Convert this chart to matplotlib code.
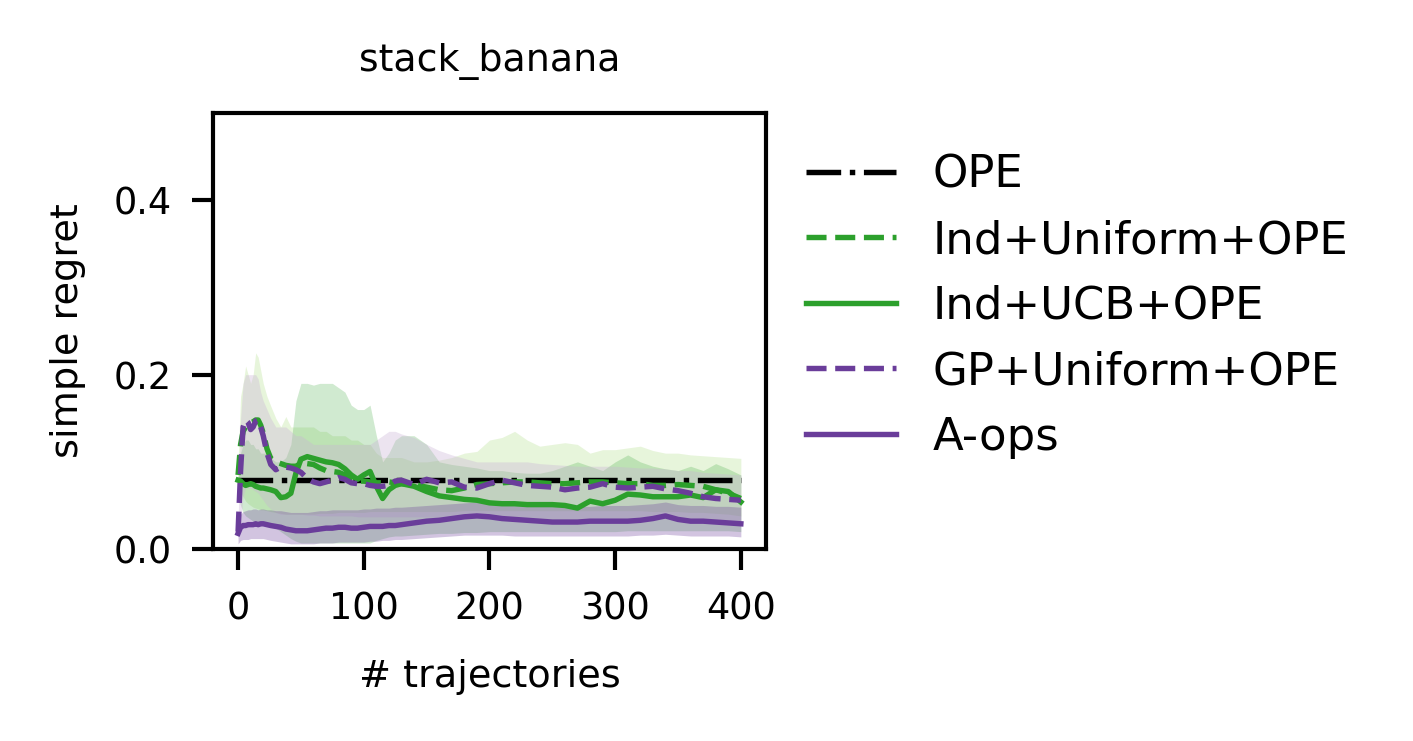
import numpy as np
import matplotlib

matplotlib.use("Agg")
import matplotlib.pyplot as plt

# number of trajectories at which the curves were sampled
steps = [0, 2, 4, 6, 8, 10, 12, 14, 16, 18, 20,
         23, 26, 30, 34, 38, 42, 46, 50,
         55, 60, 65, 70, 75, 80, 85, 90, 95, 100, 105, 110, 115, 120, 125, 130,
         140, 150, 160, 170, 180, 190, 200, 210, 220, 230, 240, 250, 260, 270,
         280, 290, 300, 310, 320, 330, 340, 350, 360, 370, 380, 390, 400]

ope_regret = 0.079

ind_uniform_mean = [0.085, 0.120, 0.135, 0.140, 0.144, 0.145, 0.146, 0.148, 0.148, 0.142, 0.133,
                    0.115, 0.104, 0.100, 0.098, 0.096, 0.095, 0.095, 0.098,
                    0.098, 0.097, 0.093, 0.090, 0.089, 0.088, 0.085, 0.080, 0.078, 0.078, 0.077, 0.076, 0.076, 0.077, 0.076, 0.075,
                    0.074, 0.071, 0.068, 0.067, 0.070, 0.074, 0.075, 0.076, 0.077, 0.077, 0.076, 0.075, 0.075, 0.076,
                    0.077, 0.077, 0.076, 0.075, 0.075, 0.073, 0.073, 0.074, 0.073, 0.072, 0.068, 0.064, 0.058]
ind_uniform_hi = [0.100, 0.175, 0.190, 0.210, 0.200, 0.190, 0.200, 0.225, 0.220, 0.205, 0.190,
                  0.175, 0.164, 0.150, 0.140, 0.152, 0.140, 0.140, 0.140,
                  0.140, 0.140, 0.135, 0.135, 0.130, 0.130, 0.130, 0.125, 0.125, 0.120, 0.120, 0.110, 0.105, 0.105, 0.105, 0.105,
                  0.100, 0.100, 0.102, 0.105, 0.110, 0.112, 0.125, 0.128, 0.135, 0.125, 0.118, 0.120, 0.122, 0.120,
                  0.110, 0.114, 0.114, 0.116, 0.118, 0.113, 0.110, 0.110, 0.108, 0.107, 0.106, 0.105, 0.104]
ind_uniform_lo = [0.070, 0.065, 0.060, 0.055, 0.052, 0.050, 0.048, 0.047, 0.046, 0.045, 0.045,
                  0.044, 0.043, 0.042, 0.041, 0.040, 0.040, 0.040, 0.040,
                  0.040, 0.040, 0.041, 0.041, 0.041, 0.042, 0.042, 0.042, 0.042, 0.042, 0.043, 0.043, 0.043, 0.043, 0.043, 0.043,
                  0.043, 0.043, 0.043, 0.043, 0.044, 0.044, 0.044, 0.044, 0.044, 0.044, 0.044, 0.044, 0.044, 0.044,
                  0.044, 0.044, 0.044, 0.044, 0.044, 0.043, 0.043, 0.043, 0.042, 0.042, 0.041, 0.040, 0.038]

ind_ucb_mean = [0.079, 0.078, 0.075, 0.073, 0.074, 0.075, 0.074, 0.072, 0.071, 0.070, 0.070,
                0.069, 0.068, 0.066, 0.059, 0.060, 0.064, 0.087, 0.103,
                0.106, 0.104, 0.102, 0.100, 0.099, 0.097, 0.092, 0.085, 0.080, 0.085, 0.089, 0.072, 0.058, 0.068, 0.073, 0.075,
                0.072, 0.066, 0.061, 0.059, 0.057, 0.056, 0.053, 0.052, 0.052, 0.051, 0.051, 0.051, 0.050, 0.047,
                0.055, 0.052, 0.056, 0.063, 0.062, 0.060, 0.060, 0.060, 0.062, 0.059, 0.068, 0.066, 0.054]
ind_ucb_hi = [0.100, 0.110, 0.120, 0.125, 0.125, 0.120, 0.120, 0.115, 0.115, 0.110, 0.110,
              0.110, 0.105, 0.100, 0.100, 0.105, 0.120, 0.170, 0.190,
              0.190, 0.188, 0.190, 0.190, 0.190, 0.185, 0.180, 0.165, 0.160, 0.160, 0.165, 0.130, 0.100, 0.110, 0.125, 0.130,
              0.130, 0.120, 0.100, 0.097, 0.095, 0.093, 0.090, 0.090, 0.088, 0.087, 0.087, 0.090, 0.095, 0.100,
              0.095, 0.090, 0.100, 0.108, 0.100, 0.095, 0.092, 0.090, 0.095, 0.090, 0.098, 0.092, 0.085]
ind_ucb_lo = [0.060, 0.050, 0.042, 0.038, 0.036, 0.034, 0.032, 0.030, 0.029, 0.028, 0.027,
              0.026, 0.025, 0.024, 0.020, 0.016, 0.012, 0.009, 0.007,
              0.007, 0.007, 0.007, 0.007, 0.007, 0.007, 0.007, 0.007, 0.007, 0.007, 0.007, 0.010, 0.012, 0.014, 0.015, 0.015,
              0.016, 0.017, 0.018, 0.018, 0.019, 0.019, 0.020, 0.020, 0.020, 0.020, 0.020, 0.020, 0.020, 0.020,
              0.020, 0.020, 0.020, 0.021, 0.021, 0.021, 0.021, 0.021, 0.021, 0.021, 0.021, 0.021, 0.020]

gp_uniform_mean = [0.020, 0.090, 0.140, 0.148, 0.145, 0.137, 0.140, 0.147, 0.148, 0.140, 0.130,
                   0.110, 0.097, 0.091, 0.094, 0.094, 0.093, 0.091, 0.088,
                   0.081, 0.077, 0.075, 0.077, 0.079, 0.082, 0.080, 0.076, 0.075, 0.075, 0.073, 0.072, 0.072, 0.073, 0.078, 0.079,
                   0.074, 0.080, 0.076, 0.077, 0.071, 0.070, 0.075, 0.079, 0.076, 0.073, 0.072, 0.071, 0.068, 0.070,
                   0.071, 0.075, 0.071, 0.070, 0.071, 0.072, 0.069, 0.067, 0.064, 0.060, 0.058, 0.057, 0.056]
gp_uniform_hi = [0.030, 0.150, 0.190, 0.200, 0.200, 0.200, 0.200, 0.200, 0.195, 0.180, 0.170,
                 0.160, 0.150, 0.140, 0.140, 0.140, 0.135, 0.130, 0.130,
                 0.125, 0.120, 0.120, 0.120, 0.120, 0.120, 0.120, 0.120, 0.120, 0.120, 0.120, 0.125, 0.130, 0.135, 0.135, 0.132,
                 0.128, 0.120, 0.113, 0.108, 0.104, 0.100, 0.100, 0.100, 0.100, 0.100, 0.098, 0.097, 0.096, 0.095,
                 0.095, 0.095, 0.095, 0.094, 0.093, 0.093, 0.092, 0.090, 0.090, 0.088, 0.087, 0.086, 0.085]
gp_uniform_lo = [0.012, 0.030, 0.060, 0.070, 0.070, 0.070, 0.068, 0.066, 0.064, 0.060, 0.056,
                 0.050, 0.046, 0.042, 0.040, 0.040, 0.040, 0.040, 0.040,
                 0.039, 0.039, 0.038, 0.038, 0.038, 0.038, 0.038, 0.038, 0.037, 0.037, 0.037, 0.037, 0.037, 0.037, 0.037, 0.037,
                 0.037, 0.037, 0.036, 0.036, 0.036, 0.036, 0.036, 0.036, 0.036, 0.036, 0.035, 0.035, 0.035, 0.035,
                 0.035, 0.035, 0.035, 0.035, 0.035, 0.035, 0.035, 0.034, 0.034, 0.033, 0.033, 0.033, 0.032]

aops_mean = [0.018, 0.025, 0.027, 0.027, 0.028, 0.028, 0.028, 0.029, 0.028, 0.029, 0.029,
             0.028, 0.027, 0.026, 0.025, 0.023, 0.022, 0.021, 0.021,
             0.021, 0.022, 0.023, 0.024, 0.024, 0.025, 0.025, 0.024, 0.024, 0.025, 0.026, 0.026, 0.026, 0.027, 0.027, 0.028,
             0.030, 0.032, 0.033, 0.035, 0.037, 0.038, 0.037, 0.035, 0.034, 0.033, 0.032, 0.031, 0.031, 0.031,
             0.032, 0.032, 0.032, 0.032, 0.033, 0.035, 0.038, 0.034, 0.032, 0.032, 0.031, 0.030, 0.029]
aops_hi = [0.032, 0.040, 0.043, 0.044, 0.045, 0.045, 0.046, 0.046, 0.045, 0.046, 0.046,
           0.045, 0.045, 0.044, 0.044, 0.043, 0.042, 0.042, 0.042,
           0.042, 0.043, 0.044, 0.044, 0.045, 0.045, 0.045, 0.045, 0.045, 0.046, 0.046, 0.047, 0.047, 0.047, 0.048, 0.048,
           0.049, 0.050, 0.051, 0.052, 0.053, 0.054, 0.053, 0.052, 0.051, 0.050, 0.049, 0.049, 0.049, 0.049,
           0.049, 0.050, 0.050, 0.050, 0.051, 0.052, 0.054, 0.051, 0.050, 0.050, 0.049, 0.049, 0.048]
aops_lo = [0.006, 0.010, 0.011, 0.011, 0.011, 0.012, 0.012, 0.012, 0.012, 0.012, 0.012,
           0.011, 0.010, 0.009, 0.008, 0.007, 0.006, 0.006, 0.006,
           0.006, 0.006, 0.007, 0.007, 0.007, 0.008, 0.008, 0.008, 0.008, 0.008, 0.009, 0.009, 0.010, 0.010, 0.011, 0.011,
           0.012, 0.013, 0.014, 0.015, 0.016, 0.016, 0.016, 0.016, 0.015, 0.015, 0.015, 0.015, 0.015, 0.015,
           0.015, 0.015, 0.015, 0.015, 0.016, 0.016, 0.017, 0.016, 0.015, 0.015, 0.015, 0.015, 0.014]

GREEN = "#2ca02c"
PURPLE = "#6a3d9a"

plt.rcParams["font.family"] = "DejaVu Sans"
plt.rcParams["font.size"] = 9

fig = plt.figure(figsize=(4.71, 2.47), dpi=300)
ax = fig.add_axes([0.1507, 0.259, 0.3914, 0.5885])

x = np.asarray(steps, dtype=float)

# shaded spread of each method
ax.fill_between(x, ind_uniform_lo, ind_uniform_hi, color="#b2df8a", alpha=0.3, linewidth=0)
ax.fill_between(x, ind_ucb_lo, ind_ucb_hi, color=GREEN, alpha=0.22, linewidth=0)
ax.fill_between(x, gp_uniform_lo, gp_uniform_hi, color="#cab2d6", alpha=0.35, linewidth=0)
ax.fill_between(x, aops_lo, aops_hi, color=PURPLE, alpha=0.3, linewidth=0)

lw = 1.3
ax.plot([x[0], x[-1]], [ope_regret, ope_regret], color="black", linestyle="-.", linewidth=lw, label="OPE")
ax.plot(x, ind_uniform_mean, color=GREEN, linestyle="--", linewidth=lw, label="Ind+Uniform+OPE")
ax.plot(x, ind_ucb_mean, color=GREEN, linestyle="-", linewidth=lw, label="Ind+UCB+OPE")
ax.plot(x, gp_uniform_mean, color=PURPLE, linestyle="--", linewidth=lw, label="GP+Uniform+OPE")
ax.plot(x, aops_mean, color=PURPLE, linestyle="-", linewidth=lw, label="A-ops")

ax.set_ylim(0, 0.5)
ax.set_xlim(-20, 420)
ax.set_xticks([0, 100, 200, 300, 400])
ax.set_yticks([0.0, 0.2, 0.4])
ax.tick_params(length=5, width=1, pad=5, labelsize=8.8)
for sp in ax.spines.values():
    sp.set_linewidth(1.0)

ax.set_xlabel("# trajectories", fontsize=9.2, labelpad=7.5)
ax.set_ylabel("simple regret", fontsize=9.2, labelpad=6.5)
ax.set_title("stack_banana", fontsize=9.1, pad=10)

ax.legend(loc="upper left", bbox_to_anchor=(1.0, 1.0), frameon=False,
          fontsize=10.8, labelspacing=0.5)

fig.savefig("out.png", dpi=300)
plt.close(fig)
